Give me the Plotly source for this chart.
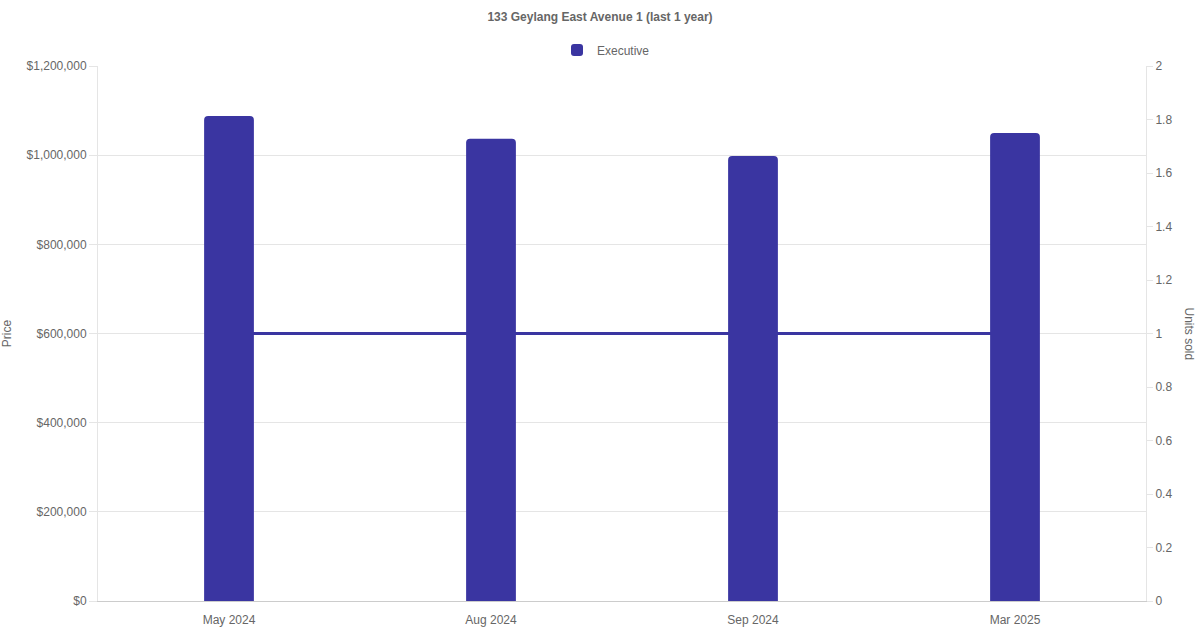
import plotly.graph_objects as go

months = ["May 2024", "Aug 2024", "Sep 2024", "Mar 2025"]
prices = [1088000, 1037000, 998000, 1050000]
units_sold = [1, 1, 1, 1]
price_ticks = [0, 200000, 400000, 600000, 800000, 1000000, 1200000]
unit_ticks = [0, 0.2, 0.4, 0.6, 0.8, 1, 1.2, 1.4, 1.6, 1.8, 2]

color = "#3a35a1"
font_family = "Liberation Sans, Arial, Helvetica, sans-serif"
grey = "#666666"
grid = "#e5e5e5"

fig = go.Figure()
# units line on main axis (drawn first, beneath bars)
fig.add_trace(go.Scatter(
    x=months, y=units_sold, mode="lines", name="Units sold",
    line=dict(color=color, width=3), yaxis="y", showlegend=False,
))
# price bars on overlaying axis (drawn on top)
fig.add_trace(go.Bar(
    x=months, y=prices, name="Executive", marker=dict(color=color, line=dict(width=0)),
    yaxis="y2", width=0.19,
))

L, R, T, B = 98, 54, 66, 29
fig.update_layout(
    width=1200, height=630,
    margin=dict(l=L, r=R, t=T, b=B, autoexpand=False),
    paper_bgcolor="white", plot_bgcolor="white",
    font=dict(family=font_family, size=12, color=grey),
    title=dict(text="<b>133 Geylang East Avenue 1 (last 1 year)</b>", x=0.5, xanchor="center",
               y=1 - 17/630, yanchor="middle", font=dict(size=12, color=grey)),
    showlegend=True,
    legend=dict(orientation="h", x=(606 - L) / (1200 - L - R), xanchor="center",
                y=1 - 50/630, yanchor="middle",
                yref="container", font=dict(size=12, color=grey)),
    barcornerradius=4,
    xaxis=dict(type="category", showgrid=False, showline=True, linecolor="#cccccc", linewidth=1,
               ticks="", ticklabelstandoff=8, tickfont=dict(size=12, color=grey),
               fixedrange=True, automargin=False),
    yaxis=dict(side="right", range=[0, 2], tickvals=unit_ticks,
               ticktext=[("%g" % v) for v in unit_ticks], automargin=False,
               showgrid=False, showline=True, linecolor=grid, ticks="outside", ticklen=6,
               tickcolor=grid, tickfont=dict(size=12, color=grey), zeroline=False),
    yaxis2=dict(side="left", overlaying="y", range=[0, 1200000], tickvals=price_ticks,
                ticktext=["$" + format(v, ",") for v in price_ticks], automargin=False,
                showgrid=True, gridcolor=grid,
                showline=True, linecolor=grid, ticks="outside", ticklen=8, tickcolor=grid,
                tickfont=dict(size=12, color=grey), zeroline=False,
                title=dict(text="Price", font=dict(size=12, color=grey), standoff=14)),
    annotations=[dict(text="Units sold", x=(1189 - L) / (1200 - L - R), y=0.5,
                      xref="paper", yref="paper", xanchor="center", yanchor="middle",
                      textangle=90, showarrow=False, font=dict(size=12, color=grey))],
)

fig.write_html("out.html", config={"displayModeBar": False},
               post_script="document.body.style.margin='0';")
